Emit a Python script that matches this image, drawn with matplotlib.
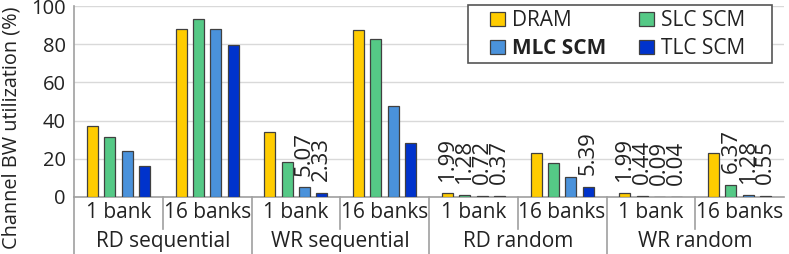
import matplotlib.pyplot as plt
from matplotlib.patches import Patch, Rectangle
from matplotlib.transforms import blended_transform_factory
import numpy as np

plt.rcParams['font.family'] = ['Open Sans', 'DejaVu Sans']

groups = ['RD sequential', 'WR sequential', 'RD random', 'WR random']
banks = ['1 bank', '16 banks']
series = ['DRAM', 'SLC SCM', 'MLC SCM', 'TLC SCM']
colors = ['#FFCC00', '#55C986', '#4A92DB', '#0033CC']

# one value per (group, banks) column, in order RDseq-1, RDseq-16, WRseq-1, ...
dram = [37.3, 88.0, 34.2, 87.3, 1.99, 22.9, 1.99, 22.9]
slc = [31.4, 93.0, 18.2, 82.9, 1.28, 18.0, 0.44, 6.37]
mlc = [24.1, 88.1, 5.07, 47.6, 0.72, 10.3, 0.09, 1.28]
tlc = [16.2, 79.4, 2.33, 28.1, 0.37, 5.39, 0.04, 0.55]
values = [dram, slc, mlc, tlc]

label_below = 7  # small values get a number on top

fig = plt.figure(figsize=(7.89, 2.54), dpi=100)
W, H = 789, 254
ax = fig.add_axes([74 / W, 57 / H, 710 / W, 191 / H])

x = np.arange(len(dram))
pitch, bw = 0.195, 0.124
for i, (name, vals, c) in enumerate(zip(series, values, colors)):
    xs = x + (i - 1.5) * pitch
    ax.bar(xs, vals, bw, color=c, edgecolor='#404040', linewidth=0.9, zorder=3)
    for xx, v in zip(xs, vals):
        if v < label_below:
            ax.annotate(f'{v:.2f}', (xx, v), xytext=(0, 8.5), textcoords='offset points',
                        rotation=90, ha='center', va='bottom', fontsize=16,
                        color='#222222', zorder=4)

ax.set_xlim(-0.5, len(dram) - 0.5)
ax.set_ylim(0, 100)
ax.set_yticks(range(0, 101, 20))
ax.tick_params(axis='y', length=0, pad=6, labelsize=14.5, colors='#222222')
ax.set_xticks([])
ax.yaxis.grid(True, color='#D9D9D9', linewidth=1)
ax.set_axisbelow(True)
for s in ['top', 'right']:
    ax.spines[s].set_visible(False)
ax.spines['left'].set_color('#A0A0A0')
ax.spines['bottom'].set_color('#A0A0A0')
ax.spines['left'].set_linewidth(1.2)
ax.spines['bottom'].set_linewidth(1.2)

ax.set_ylabel('Channel BW utilization (%)', fontsize=14.3, color='#222222')
ax.yaxis.set_label_coords(-0.074, 0.362)

# category axis: bank labels, group labels and separators
tr = blended_transform_factory(ax.transData, ax.transAxes)
for k in range(len(dram)):
    ax.text(k, -0.08, banks[k % 2], transform=tr, ha='center', va='center',
            fontsize=15, color='#222222')
for g, name in enumerate(groups):
    ax.text(2 * g + 0.5, -0.235, name, transform=tr, ha='center', va='center',
            fontsize=15, color='#222222')
    ax.plot([2 * g - 0.5] * 2, [0, -0.30], transform=tr, color='#A0A0A0',
            linewidth=1.2, clip_on=False)
    ax.plot([2 * g + 0.5] * 2, [0, -0.165], transform=tr, color='#A0A0A0',
            linewidth=1.2, clip_on=False)

# legend
handles = [Patch(facecolor=c, edgecolor='#404040', linewidth=0.9) for c in colors]
order = [0, 2, 1, 3]
leg = ax.legend([handles[i] for i in order], [series[i] for i in order], ncol=2,
                loc='upper left', bbox_to_anchor=(0.580, 1.0), frameon=False,
                fontsize=15, handlelength=0.7, handleheight=0.7, handletextpad=0.35,
                columnspacing=1.6, labelspacing=0.35, borderpad=0.2, borderaxespad=0)
for t in leg.get_texts():
    t.set_color('#222222')
    if t.get_text() == 'MLC SCM':
        t.set_fontweight('bold')
ax.add_patch(Rectangle((0.555, 0.70), 0.428, 0.305, transform=ax.transAxes,
                       facecolor='white', edgecolor='#555555', linewidth=1.2,
                       zorder=5, clip_on=False))
leg.set_zorder(6)

fig.savefig('out.png', dpi=100)
